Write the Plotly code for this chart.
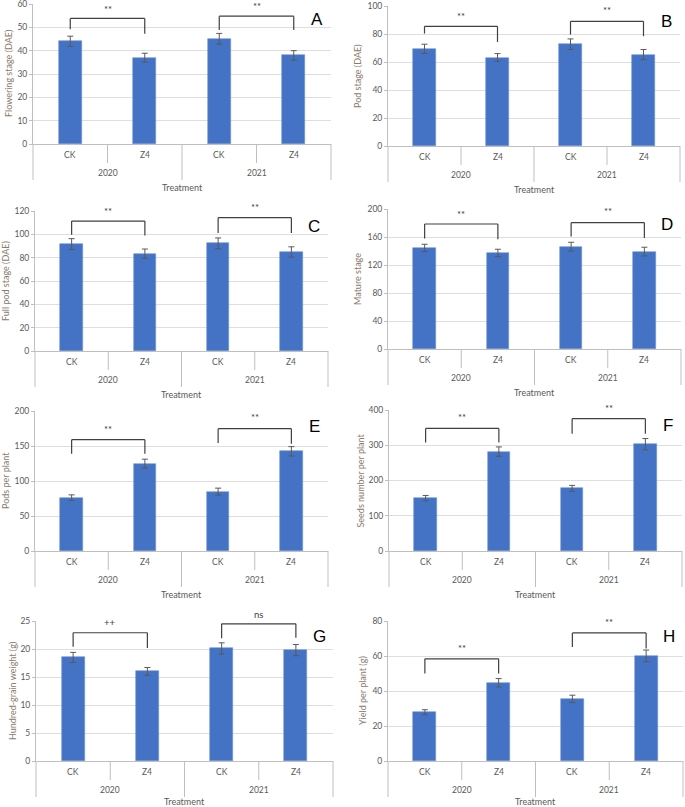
import plotly.graph_objects as go

# ---------------- data ----------------
treatments = ["CK", "Z4", "CK", "Z4"]
years = ["2020", "2021"]
x_title = "Treatment"

flowering_mean = [44.0, 37.0, 45.1, 38.0]
flowering_err = [2.2, 1.9, 2.3, 2.0]
pod_mean = [69.4, 63.2, 72.7, 65.3]
pod_err = [3.3, 2.8, 3.8, 3.6]
fullpod_mean = [91.7, 83.4, 92.3, 84.9]
fullpod_err = [4.6, 4.0, 4.6, 4.4]
mature_mean = [144.4, 137.3, 146.3, 139.2]
mature_err = [5.2, 5.2, 6.2, 6.2]
pods_mean = [76.2, 124.8, 84.8, 142.4]
pods_err = [4.0, 6.4, 5.0, 6.7]
seeds_mean = [150.0, 282.0, 177.7, 303.0]
seeds_err = [7.6, 13.3, 8.5, 16.0]
hgw_mean = [18.5, 16.0, 20.1, 19.8]
hgw_err = [0.9, 0.7, 1.0, 1.0]
yield_mean = [27.9, 44.7, 35.5, 60.1]
yield_err = [1.4, 2.4, 2.1, 3.3]

y_titles = ["Flowering stage (DAE)", "Pod stage (DAE)", "Full pod stage (DAE)", "Mature stage",
            "Pods per plant", "Seeds number per plant", "Hundred-grain weight (g)", "Yield per plant (g)"]
panel_letters = ["A", "B", "C", "D", "E", "F", "G", "H"]
sig_labels = [["**", "**"], ["**", "**"], ["**", "**"], ["**", "**"],
              ["**", "**"], ["**", "**"], ["++", "ns"], ["**", "**"]]

means = [flowering_mean, pod_mean, fullpod_mean, mature_mean, pods_mean, seeds_mean, hgw_mean, yield_mean]
errs = [flowering_err, pod_err, fullpod_err, mature_err, pods_err, seeds_err, hgw_err, yield_err]

# ---------------- layout config ----------------
y_max = [60, 100, 120, 200, 200, 400, 25, 80]
y_dtick = [10, 20, 20, 40, 50, 100, 5, 20]
# bracket geometry per panel: (bar height, left leg bottom, right leg bottom, label y) for 2020 and 2021
brackets = [
    [(53.8, 49.2, 47.2, 58.6), (54.8, 48.9, 48.9, 60.0)],
    [(85.5, 80.3, 74.3, 94.0), (89.0, 79.6, 78.4, 98.3)],
    [(111.4, 99.7, 98.9, 121.7), (114.3, 101.1, 101.1, 125.0)],
    [(178.6, 158.0, 156.8, 195.7), (180.5, 160.6, 158.7, 198.6)],
    [(159.0, 139.0, 139.0, 177.0), (174.8, 154.3, 153.3, 192.9)],
    [(347.7, 307.8, 307.8, 384.8), (375.3, 332.5, 332.5, 410.0)],
    [(22.9, 20.4, 20.2, 25.1), (24.5, 21.9, 22.0, 26.2)],
    [(58.4, 50.0, 50.0, 65.6), (73.2, 65.2, 64.3, 80.4)],
]
# plot areas in pixels: (left, right, top, bottom)
W, H = 685, 807
areas = [(33, 331, 4, 144), (388, 680, 6, 146), (35, 328, 211, 351), (388, 681, 209, 349),
         (35, 328, 411, 551), (389, 682, 410, 551), (36, 333, 621, 761), (388, 683, 621, 761)]
ytitle_off = [25, 31, 30, 31, 30, 29, 24, 26]
xtitle_off = [43, 43, 43, 43, 43, 43, 40, 40]

BAR = "#4472C4"
GRID = "#dedede"
AXIS = "#bfbfbf"
TXT = "#595959"
TITLE_C = "#8a7a6c"
FONT = "Lato"

fig = go.Figure()
shapes = []
annotations = []
xpos = [0, 1, 2, 3]
xmin, xmax = -0.5, 3.5


def ann(**kw):
    kw.setdefault("showarrow", False)
    kw.setdefault("xanchor", "center")
    kw.setdefault("yanchor", "middle")
    annotations.append(kw)


for i in range(8):
    n = "" if i == 0 else str(i + 1)
    xa, ya = "x" + n, "y" + n
    l, r, t, b = areas[i]
    ph = b - t
    fig.add_trace(go.Bar(
        x=xpos, y=means[i], xaxis=xa, yaxis=ya, width=0.31,
        marker=dict(color=BAR, line=dict(color="#6f93d4", width=0.6)),
        error_y=dict(type="data", array=errs[i], color=TXT, thickness=1, width=3),
        showlegend=False, hoverinfo="skip",
    ))
    fig.layout["xaxis" + n] = dict(
        domain=[l / W, r / W], anchor=ya, range=[xmin, xmax], showticklabels=False, automargin=False,
        showgrid=False, zeroline=False, showline=True, linecolor=AXIS, linewidth=1, fixedrange=True)
    fig.layout["yaxis" + n] = dict(
        domain=[1 - b / H, 1 - t / H], anchor=xa, range=[0, y_max[i]], dtick=y_dtick[i], automargin=False,
        showgrid=True, gridcolor=GRID, gridwidth=1, zeroline=False, showline=True,
        linecolor=AXIS, linewidth=1, ticks="outside", ticklen=3, tickcolor=AXIS,
        ticklabeloverflow="allow",
        tickfont=dict(family=FONT, size=8.5, color=TXT), fixedrange=True)

    xd, yd = xa + " domain", ya + " domain"
    # category dividers
    for k, xv in enumerate([-0.5, 0.5, 1.5, 2.5, 3.5]):
        frac = (xv - xmin) / (xmax - xmin)
        depth = 36 if k % 2 == 0 else 19
        shapes.append(dict(type="line", xref=xd, yref=yd, x0=frac, x1=frac, y0=0, y1=-depth / ph,
                           line=dict(color=AXIS, width=1)))
    # category labels
    for xv, lab in zip(xpos, treatments):
        ann(x=xv, y=0, xref=xa, yref=yd, text=lab, yshift=-11,
            font=dict(family=FONT, size=8.5, color=TXT))
    for j, yr in enumerate(years):
        ann(x=(xpos[2 * j] + xpos[2 * j + 1]) / 2, y=0, xref=xa, yref=yd, text=yr, yshift=-29,
            font=dict(family=FONT, size=8.5, color=TXT))
    ann(x=0.5, y=0, xref=xd, yref=yd, text=x_title, yshift=-xtitle_off[i],
        font=dict(family=FONT, size=9, color=TXT))
    # y title
    ann(x=0, y=0.5, xref=xd, yref=yd, text=y_titles[i], textangle=-90, xshift=-ytitle_off[i],
        font=dict(family=FONT, size=9, color=TITLE_C))
    # panel letter
    ann(x=1, y=1, xref=xd, yref=yd, text=panel_letters[i], xshift=-14, yshift=-15,
        font=dict(family="Liberation Sans", size=17, color="#000000"))
    # significance brackets
    for j in range(2):
        top, lb, rb, ty = brackets[i][j]
        x0, x1 = xpos[2 * j], xpos[2 * j + 1]
        for (ax0, ay0, ax1, ay1) in [(x0, lb, x0, top), (x0, top, x1, top), (x1, top, x1, rb)]:
            shapes.append(dict(type="line", xref=xa, yref=ya, x0=ax0, y0=ay0, x1=ax1, y1=ay1,
                               line=dict(color="#404040", width=1.2)))
        lab = sig_labels[i][j]
        ann(x=(x0 + x1) / 2, y=ty / y_max[i], xref=xa, yref=yd, text=lab,
            yshift=-2 if lab != "ns" else 0,
            font=dict(family=FONT, size=9.5, color="#404040"))

fig.update_layout(
    width=W, height=H, margin=dict(l=0, r=0, t=0, b=0),
    paper_bgcolor="white", plot_bgcolor="white",
    shapes=shapes, annotations=annotations, bargap=0,
)
fig.write_html("out.html", config={"displayModeBar": False},
               post_script="document.body.style.margin='0';document.body.style.overflow='hidden';")
